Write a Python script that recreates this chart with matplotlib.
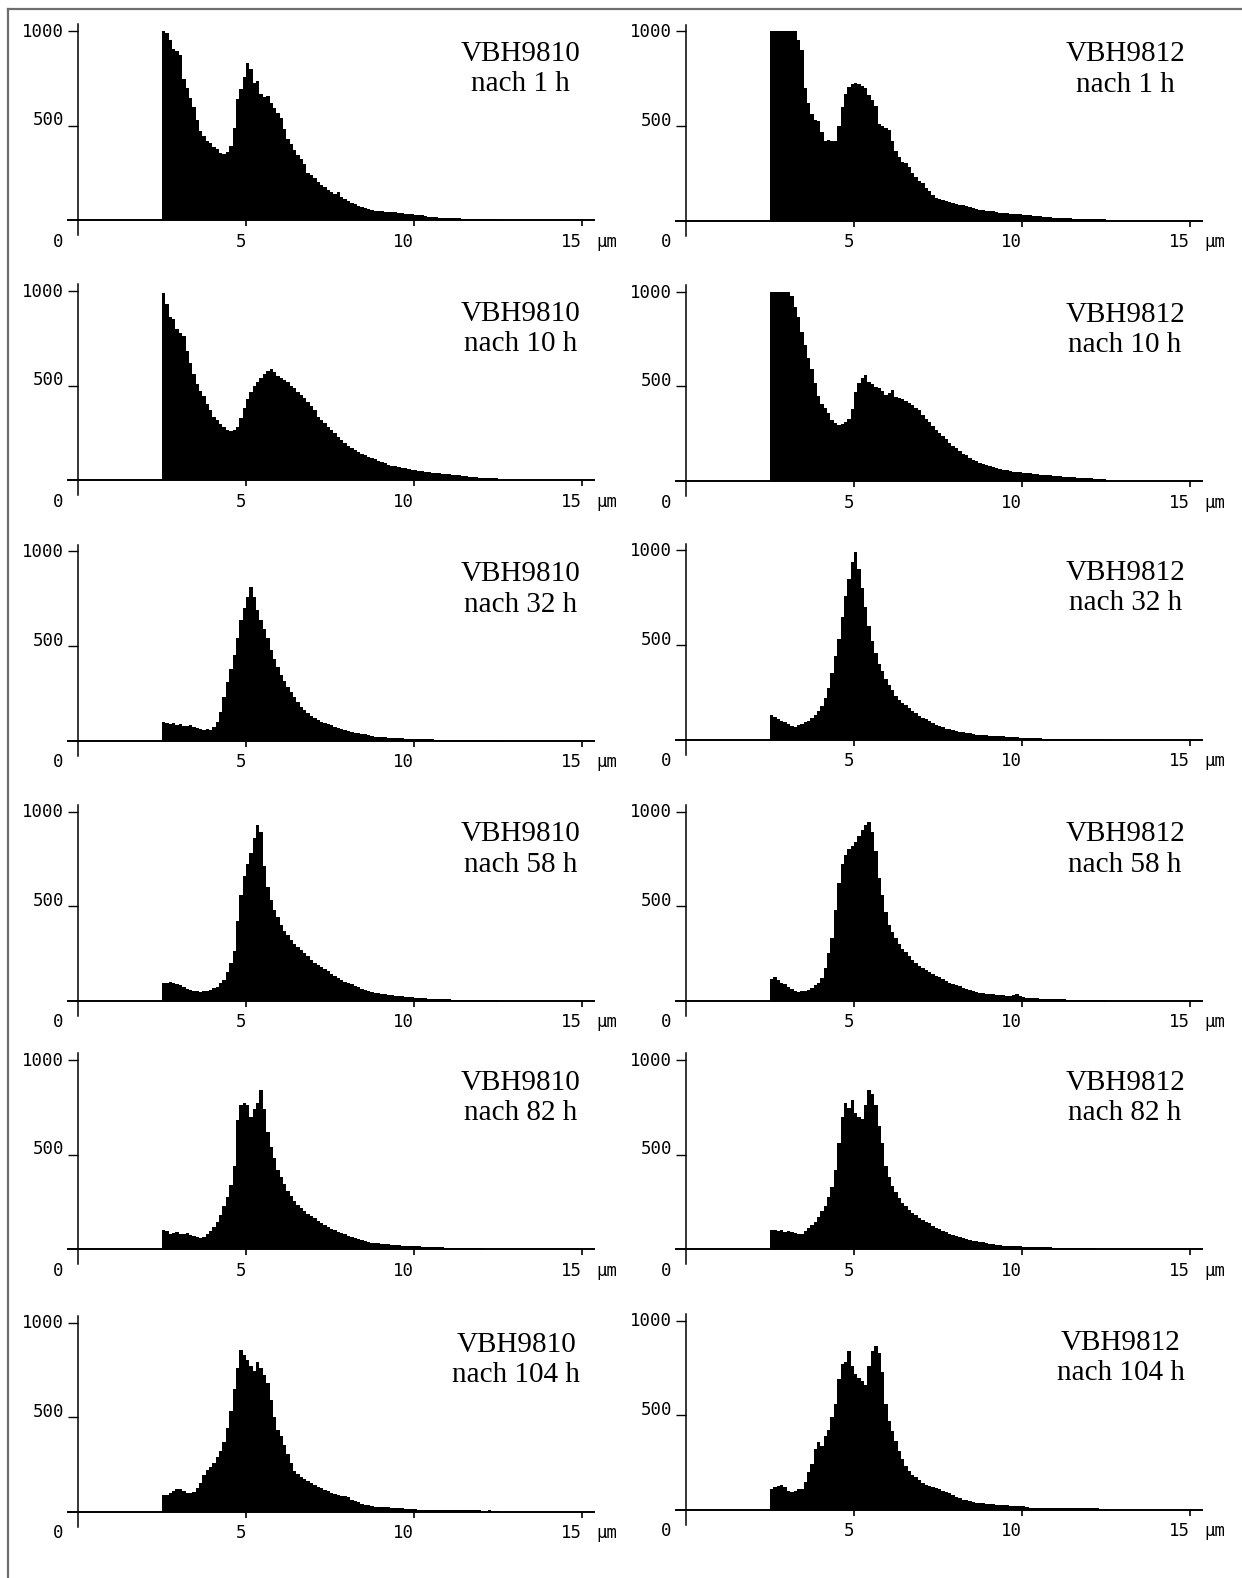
import numpy as np
import matplotlib
matplotlib.use("Agg")
import matplotlib.pyplot as plt
from matplotlib.lines import Line2D

# ---------------- data (counts per 0.1 µm channel, starting at 2.5 µm) ----------------
bin_start = 2.5
bin_width = 0.1

titles_left = ["VBH9810\nnach 1 h", "VBH9810\nnach 10 h", "VBH9810\nnach 32 h",
               "VBH9810\nnach 58 h", "VBH9810\nnach 82 h", "VBH9810\nnach 104 h"]
titles_right = ["VBH9812\nnach 1 h", "VBH9812\nnach 10 h", "VBH9812\nnach 32 h",
                "VBH9812\nnach 58 h", "VBH9812\nnach 82 h", "VBH9812\nnach 104 h"]

x_ticks = [5, 10, 15]
x_tick_labels = ["5", "10", "15"]
y_ticks = [500, 1000]
y_tick_labels = ["500", "1000"]
unit_label = "µm"

L1 = [1000, 990, 950, 905, 895, 875, 745, 700, 645, 600,
      530, 470, 445, 420, 410, 385, 375, 355, 350, 362,
      390, 485, 640, 695, 755, 830, 800, 725, 735, 665,
      650, 655, 620, 595, 565, 540, 480, 430, 400, 372,
      345, 322, 298, 250, 238, 222, 200, 185, 172, 160,
      150, 140, 146, 124, 110, 100, 90, 86, 76, 70,
      63, 60, 54, 50, 47, 45, 43, 42, 40, 40,
      37, 35, 33, 32, 30, 28, 26, 24, 21, 18,
      16, 15, 13, 12, 11, 10, 9, 9, 8, 7,
      7, 6, 6, 5, 5, 5, 4, 4, 3, 3]

R1 = [1000, 1000, 1000, 1000, 1000, 1000, 1000, 1000, 955, 900,
      700, 620, 565, 530, 528, 470, 423, 425, 420, 423,
      500, 600, 670, 705, 722, 730, 720, 710, 700, 665,
      640, 605, 510, 498, 488, 478, 420, 370, 338, 312,
      302, 285, 250, 232, 210, 198, 172, 155, 135, 120,
      115, 108, 102, 98, 92, 88, 84, 80, 75, 70,
      66, 62, 58, 54, 52, 50, 48, 46, 42, 38,
      38, 37, 36, 35, 33, 31, 29, 27, 26, 24,
      22, 20, 18, 16, 15, 14, 13, 12, 12, 11,
      10, 10, 9, 9, 9, 8, 8, 7, 7, 6]

L2 = [990, 930, 860, 850, 800, 780, 760, 680, 620, 560,
      510, 470, 445, 400, 370, 335, 315, 295, 280, 265,
      260, 262, 280, 330, 380, 430, 465, 495, 520, 540,
      560, 575, 585, 570, 550, 540, 530, 518, 500, 485,
      468, 450, 435, 415, 390, 368, 335, 318, 300, 280,
      262, 248, 228, 210, 195, 182, 170, 158, 146, 138,
      130, 124, 115, 110, 102, 94, 88, 82, 76, 72,
      68, 65, 62, 58, 55, 52, 49, 45, 42, 40,
      38, 37, 35, 33, 32, 30, 28, 26, 24, 22,
      20, 18, 16, 15, 13, 12, 11, 10, 9, 8]

R2 = [1000, 1000, 1000, 1000, 1000, 1000, 980, 920, 870, 790,
      720, 650, 590, 520, 450, 410, 385, 360, 325, 305,
      295, 300, 310, 330, 380, 470, 520, 545, 560, 525,
      515, 495, 490, 475, 455, 465, 480, 445, 438, 432,
      425, 415, 400, 388, 375, 350, 330, 310, 290, 272,
      255, 238, 220, 200, 185, 172, 160, 145, 135, 122,
      112, 104, 96, 88, 84, 78, 72, 68, 64, 60,
      58, 54, 50, 47, 45, 43, 42, 40, 38, 36,
      34, 33, 32, 30, 28, 26, 24, 22, 21, 20,
      19, 18, 17, 16, 15, 14, 13, 12, 11, 10]

L3 = [100, 95, 85, 90, 80, 85, 78, 75, 80, 70,
      65, 60, 55, 60, 58, 70, 100, 150, 230, 310,
      380, 450, 540, 640, 700, 760, 810, 760, 690, 640,
      590, 540, 480, 430, 390, 345, 315, 285, 255, 230,
      205, 175, 160, 145, 130, 120, 110, 100, 95, 88,
      80, 74, 68, 60, 55, 50, 45, 42, 38, 34,
      32, 28, 24, 21, 19, 17, 16, 15, 14, 13,
      12, 11, 10, 10, 9, 8, 8, 7, 7, 6,
      6, 5, 5, 5, 4, 4, 4, 3, 3, 3,
      3, 2, 2, 2, 2, 2, 1, 1, 1, 1]

R3 = [128, 118, 108, 100, 90, 80, 72, 68, 75, 82,
      90, 100, 115, 130, 150, 175, 220, 270, 350, 440,
      530, 650, 760, 850, 940, 990, 900, 800, 700, 600,
      520, 460, 400, 360, 320, 290, 260, 232, 210, 195,
      180, 165, 150, 138, 125, 115, 108, 98, 88, 78,
      70, 64, 58, 54, 50, 46, 42, 38, 35, 32,
      28, 26, 24, 23, 22, 21, 20, 19, 18, 16,
      14, 13, 12, 11, 10, 9, 8, 8, 7, 6,
      6, 5, 5, 5, 5, 4, 4, 4, 3, 3,
      3, 3, 2, 2, 2, 2, 2, 1, 1, 1]

L4 = [95, 90, 100, 95, 85, 80, 70, 60, 55, 50,
      48, 45, 50, 52, 58, 65, 72, 90, 110, 150,
      200, 260, 420, 560, 660, 720, 780, 860, 930, 890,
      710, 600, 530, 480, 440, 400, 370, 345, 320, 300,
      285, 265, 250, 235, 215, 200, 190, 178, 168, 155,
      140, 130, 118, 108, 100, 92, 85, 76, 70, 62,
      58, 52, 46, 42, 38, 34, 32, 30, 28, 26,
      24, 22, 20, 18, 16, 15, 13, 12, 11, 10,
      9, 8, 7, 7, 6, 6, 5, 5, 5, 4,
      4, 4, 3, 3, 3, 3, 2, 2, 2, 2]

R4 = [115, 125, 110, 95, 85, 70, 60, 50, 45, 50,
      48, 55, 65, 80, 95, 120, 170, 250, 330, 480,
      620, 720, 770, 800, 820, 840, 870, 900, 930, 945,
      890, 790, 650, 560, 470, 400, 360, 330, 300, 275,
      255, 235, 215, 200, 185, 172, 162, 152, 142, 132,
      122, 112, 104, 95, 88, 82, 75, 68, 62, 56,
      50, 46, 42, 39, 36, 34, 32, 30, 28, 27,
      26, 25, 28, 32, 25, 18, 15, 14, 12, 11,
      10, 10, 9, 8, 7, 7, 6, 6, 5, 5,
      5, 4, 4, 3, 3, 3, 3, 2, 2, 2]

L5 = [100, 95, 80, 85, 90, 80, 78, 85, 75, 70,
      65, 60, 65, 80, 95, 115, 145, 180, 225, 275,
      340, 440, 680, 760, 775, 760, 700, 740, 770, 840,
      740, 620, 540, 480, 420, 380, 345, 305, 280, 255,
      235, 215, 200, 185, 175, 162, 150, 138, 128, 118,
      108, 100, 92, 85, 78, 70, 64, 58, 52, 46,
      42, 38, 34, 32, 30, 28, 26, 24, 22, 21,
      20, 18, 17, 16, 16, 15, 14, 13, 12, 11,
      10, 9, 8, 8, 7, 7, 6, 6, 5, 5,
      5, 4, 4, 3, 3, 3, 2, 2, 2, 2]

R5 = [100, 98, 95, 100, 92, 95, 90, 85, 80, 82,
      95, 110, 125, 145, 170, 200, 230, 275, 330, 420,
      560, 700, 770, 745, 790, 720, 700, 690, 760, 840,
      820, 760, 650, 560, 440, 380, 335, 300, 270, 245,
      225, 205, 190, 178, 165, 155, 145, 135, 122, 112,
      105, 96, 90, 82, 75, 70, 64, 58, 53, 48,
      44, 42, 38, 35, 32, 28, 25, 22, 20, 18,
      17, 16, 15, 15, 14, 13, 12, 12, 11, 10,
      9, 9, 8, 8, 7, 7, 6, 6, 5, 5,
      5, 4, 4, 4, 3, 3, 3, 2, 2, 2]

L6 = [88, 85, 100, 110, 118, 118, 110, 100, 97, 105,
      125, 150, 195, 220, 235, 255, 290, 320, 370, 440,
      530, 650, 760, 855, 830, 800, 770, 745, 790, 760,
      720, 680, 590, 500, 430, 400, 350, 305, 255, 215,
      200, 185, 172, 160, 150, 140, 132, 122, 115, 108,
      100, 95, 88, 83, 80, 75, 62, 55, 48, 42,
      36, 32, 28, 26, 25, 24, 23, 22, 20, 18,
      17, 16, 15, 14, 13, 12, 10, 9, 9, 9,
      9, 8, 9, 8, 8, 9, 8, 8, 7, 7,
      6, 6, 6, 7, 6, 5, 5, 6, 5, 4]

R6 = [110, 118, 125, 128, 120, 98, 95, 100, 108, 110,
      145, 200, 240, 320, 355, 335, 390, 420, 490, 560,
      690, 770, 780, 840, 760, 715, 695, 680, 660, 760,
      840, 865, 830, 730, 560, 470, 415, 365, 310, 265,
      230, 205, 185, 170, 155, 138, 130, 125, 120, 115,
      110, 100, 92, 85, 77, 68, 60, 52, 48, 44,
      40, 37, 34, 32, 30, 28, 27, 25, 24, 22,
      22, 21, 20, 18, 20, 21, 14, 10, 10, 9,
      9, 9, 9, 9, 9, 9, 8, 8, 8, 8,
      7, 7, 7, 7, 7, 7, 6, 6, 5, 5]

left_series = [L1, L2, L3, L4, L5, L6]
right_series = [R1, R2, R3, R4, R5, R6]

# ---------------- layout (pixels of the 1242 x 1578 canvas) ----------------
W, H = 1242, 1578
fig = plt.figure(figsize=(W / 100, H / 100), dpi=100)
fig.patch.set_facecolor("white")

col_x0 = [78.0, 686.0]                       # pixel x of 0 µm
title_x = [14.95, 14.85]                     # right edge of the title block (µm)
row_base = [[220.0, 480.0, 740.5, 1000.5, 1249.0, 1511.5],
            [220.5, 481.0, 739.5, 1000.5, 1249.0, 1509.5]]
SX = 33.6      # px per µm
SY = 0.189     # px per count
XMIN, XMAX = -0.3, 15.4
YMIN, YMAX = -90, 1045

mono = "DejaVu Sans Mono"
serif = "Liberation Serif"


def panel(col, row, values, title):
    x0 = col_x0[col]
    base = row_base[col][row]
    left = x0 + XMIN * SX
    width = (XMAX - XMIN) * SX
    top = base - YMAX * SY
    bottom = base - YMIN * SY
    ax = fig.add_axes([left / W, 1 - bottom / H, width / W, (bottom - top) / H])
    ax.set_xlim(XMIN, XMAX)
    ax.set_ylim(YMIN, YMAX)
    ax.patch.set_alpha(0)

    n = len(values)
    edges = bin_start + bin_width * np.arange(n + 1)
    ax.stairs(values, edges, fill=True, color="black", linewidth=0)

    for s in ("top", "right"):
        ax.spines[s].set_visible(False)
    ax.spines["left"].set_position(("data", 0))
    ax.spines["bottom"].set_position(("data", 0))
    ax.spines["left"].set_bounds(-80, 1035)
    ax.spines["bottom"].set_bounds(-0.3, 15.36)
    ax.spines["left"].set_linewidth(1.1)
    ax.spines["bottom"].set_linewidth(1.4)

    ax.set_xticks(x_ticks)
    ax.set_yticks(y_ticks)
    ax.tick_params(axis="x", direction="out", length=4.5, width=1.2,
                   labelbottom=False)
    ax.tick_params(axis="y", direction="out", length=7, width=1.0,
                   labelleft=False)

    fs = 12.5
    for xv, lab in zip(x_ticks, x_tick_labels):
        ax.text(xv, -142, lab, ha="right", va="baseline",
                family=mono, fontsize=fs)
    ax.text(15.42, -142, unit_label, ha="left", va="baseline",
            family=mono, fontsize=fs)
    ax.text(-0.45, -142, "0", ha="right", va="baseline",
            family=mono, fontsize=fs)
    ax.text(-0.42, 970, y_tick_labels[1], ha="right", va="baseline",
            family=mono, fontsize=fs)
    ax.text(-0.42, 502, y_tick_labels[0], ha="right", va="baseline",
            family=mono, fontsize=fs)

    ax.text(title_x[col], 800, title, ha="right", va="center",
            multialignment="center", family=serif, fontsize=21,
            linespacing=1.22)
    return ax


for r in range(6):
    panel(0, r, left_series[r], titles_left[r])
    panel(1, r, right_series[r], titles_right[r])

# thin gray frame on the left and top edges
fig.add_artist(Line2D([7.5 / W, 7.5 / W], [0, 1 - 9 / H], transform=fig.transFigure,
                      color="#6e6e6e", linewidth=1.6))
fig.add_artist(Line2D([7.5 / W, 1], [1 - 9 / H, 1 - 9 / H], transform=fig.transFigure,
                      color="#6e6e6e", linewidth=1.6))

fig.savefig("out.png", dpi=100, facecolor="white")
